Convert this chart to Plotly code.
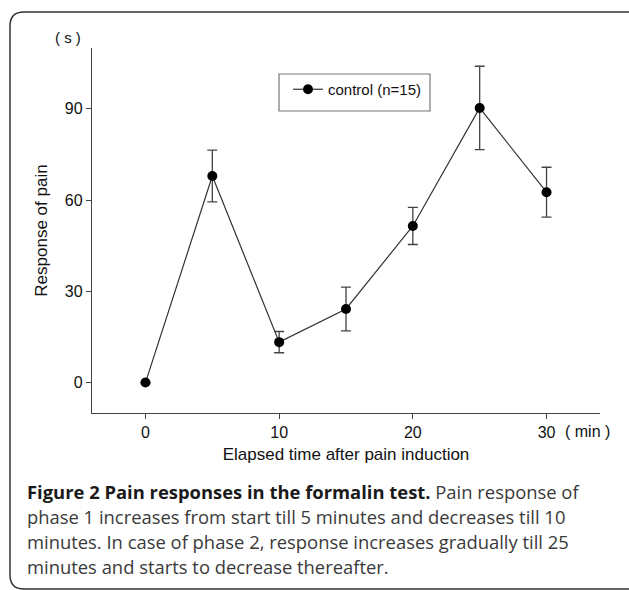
import plotly.graph_objects as go

time_min = [0, 5, 10, 15, 20, 25, 30]
response = [0, 67.9, 13.3, 24.2, 51.5, 90.3, 62.6]
err = [0, 8.5, 3.5, 7.2, 6.1, 13.7, 8.2]
x_ticks = [0, 10, 20, 30]
y_ticks = [0, 30, 60, 90]
series_name = "control (n=15)"

W, H = 629, 590
L, R, T, B = 92, 29, 48, 177
PW, PH = W - L - R, H - T - B

def px(xp):
    return (xp - L) / PW

def py(yp):
    return (H - B - yp) / PH

fig = go.Figure()
fig.add_trace(go.Scatter(
    x=time_min, y=response, name=series_name, mode="lines+markers",
    line=dict(color="#333333", width=1.2),
    marker=dict(color="#000000", size=10),
    error_y=dict(type="data", array=err, visible=True, color="#444444",
                 thickness=1.3, width=5),
    showlegend=True,
))

ARIAL = "Liberation Sans, Arial"
axis_font = dict(family=ARIAL, size=16, color="#111111")
fig.update_layout(
    width=W, height=H,
    margin=dict(l=L, r=R, t=T, b=B),
    paper_bgcolor="white", plot_bgcolor="white",
    xaxis=dict(range=[-4, 34], tickvals=x_ticks, showgrid=False, zeroline=False,
               showline=True, linecolor="#444444", linewidth=1.3,
               ticks="outside", ticklen=5, tickcolor="#444444",
               tickfont=axis_font,
               title=dict(text="Elapsed time after pain induction",
                          font=dict(family=ARIAL, size=17, color="#111111"),
                          standoff=7)),
    yaxis=dict(range=[-10, 110], tickvals=y_ticks, showgrid=False, zeroline=False,
               showline=True, linecolor="#444444", linewidth=1.3,
               ticks="outside", ticklen=5, tickcolor="#444444",
               tickfont=axis_font,
               title=dict(text="Response of pain",
                          font=dict(family=ARIAL, size=17, color="#111111"),
                          standoff=12)),
    legend=dict(x=px(288), y=py(73), xanchor="left", yanchor="top",
                bgcolor="rgba(0,0,0,0)", borderwidth=0,
                font=dict(family=ARIAL, size=15, color="#111111")),
)

# legend box
fig.add_shape(type="rect", xref="paper", yref="paper",
              x0=px(279), x1=px(430), y0=py(74), y1=py(111),
              line=dict(color="#777777", width=1.2), fillcolor="rgba(0,0,0,0)")

# rounded frame around figure + caption
r = 14
bx0, by0, bx1, by1 = 10, 12, 640, 589
pts = [
    ("M", [(bx1, by0)]),
    ("L", [(bx0 + r, by0)]),
    ("Q", [(bx0, by0), (bx0, by0 + r)]),
    ("L", [(bx0, by1 - r)]),
    ("Q", [(bx0, by1), (bx0 + r, by1)]),
    ("L", [(bx1, by1)]),
]
path = " ".join(c + " " + " ".join(f"{px(a):.5f},{py(b):.5f}" for a, b in p) for c, p in pts)
fig.add_shape(type="path", xref="paper", yref="paper", path=path,
              line=dict(color="#333333", width=1.5))

# unit labels
fig.add_annotation(xref="paper", yref="paper", x=px(68), y=py(37), text="( s )",
                   xanchor="center", yanchor="middle",
                   showarrow=False, font=dict(family=ARIAL, size=15, color="#111111"))
fig.add_annotation(xref="paper", yref="paper", x=px(587), y=py(431), text="( min )",
                   xanchor="center", yanchor="middle",
                   showarrow=False, font=dict(family=ARIAL, size=16, color="#111111"))

# caption
cap_font = dict(family="Open Sans", size=18.4, color="#3a3a3a")
lines = [
    "<b style='color:#1a1a1a'>Figure 2 Pain responses in the formalin test.</b> Pain response of",
    "phase 1 increases from start till 5 minutes and decreases till 10",
    "minutes. In case of phase 2, response increases gradually till 25",
    "minutes and starts to decrease thereafter.",
]
for i, t in enumerate(lines):
    fig.add_annotation(xref="paper", yref="paper", x=px(25), y=py(492 + i * 24.7),
                       xanchor="left", yanchor="middle", text=t, showarrow=False,
                       font=cap_font, align="left")

fig.write_html("out.html", config={"displayModeBar": False},
               post_script="document.body.style.margin='0';document.body.style.overflow='hidden';")
